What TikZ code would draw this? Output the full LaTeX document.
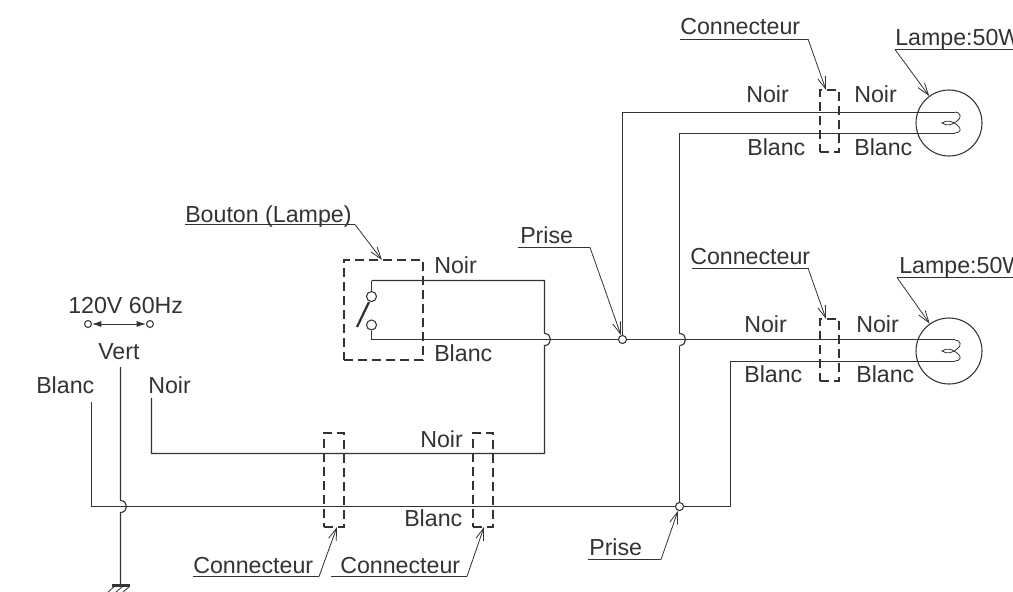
\documentclass[tikz,border=0pt]{standalone}
\usepackage{fontspec}
\setmainfont{Liberation Sans}
\usetikzlibrary{arrows.meta, calc}
\definecolor{inkgray}{HTML}{333333}
\newcommand{\wirehop}[2]{(#1, #2-6) .. controls (#1+8, #2-6) and (#1+8, #2+6) .. (#1, #2+6)}
\newcommand{\lampcoil}[2]{(#1+6, #2-11) .. controls (#1+12, #2-11) and (#1+13, #2-5) .. (#1+8, #2-2) .. controls (#1+5, #2+1) and (#1-2, #2+4) .. (#1-7, #2) .. controls (#1-2, #2-4) and (#1+5, #2-1) .. (#1+8, #2+2) .. controls (#1+13, #2+5) and (#1+12, #2+10) .. (#1+6, #2+10)}
\tikzset{
    lbl/.style={anchor=base west, inner sep=0pt, text=inkgray, font=\fontsize{17.4}{20}\selectfont},
    wire/.style={draw=inkgray, line width=0.85pt},
    leader/.style={draw=inkgray, line width=0.6pt},
    pointer/.style={leader, -{Straight Barb[length=9pt, width=6pt, line width=0.6pt]}},
    dashbox/.style={draw=inkgray, line width=0.85pt, dash pattern=on 7pt off 3.5pt, rectangle, inner sep=0pt, minimum width=#1*0.75pt},
    junction/.style={circle, draw=inkgray, line width=0.8pt, fill=white, inner sep=0pt, minimum size=6pt},
    contact/.style={circle, draw=inkgray, line width=0.8pt, fill=white, inner sep=0pt, minimum size=7.5pt},
    lamp/.style={circle, draw=inkgray, line width=0.8pt, inner sep=0pt, minimum size=49.5pt}
}
\begin{document}
\begin{tikzpicture}[x=0.75pt, y=-0.75pt]
    \useasboundingbox (0, 0) rectangle (1013, 592);
    \clip (0, 0) rectangle (1013, 592);

    %Lamps
    \node[lamp] (lampa) at (949, 123) {};
    \node[lamp] (lampb) at (949, 351) {};

    %Boxes
    \node[dashbox=79, minimum height=75pt] (bouton) at (383.5, 310) {};
    \node[dashbox=20, minimum height=70.5pt] (conna) at (334, 480) {};
    \node[dashbox=20, minimum height=70.5pt] (connb) at (483, 480) {};
    \node[dashbox=19, minimum height=46.5pt] (connc) at (829.5, 121) {};
    \node[dashbox=19, minimum height=46.5pt] (connd) at (829.5, 350) {};

    %Wire ends
    \coordinate (blancin) at (91.5, 402);
    \coordinate (noirin) at (151.5, 398);
    \coordinate (vertin) at (120.5, 367);
    \coordinate (earth) at (120.5, 585);
    \coordinate (swtop) at (371.5, 280.5);
    \coordinate (swbot) at (371.5, 339.5);
    \coordinate (enda) at (955, 112.5);
    \coordinate (endb) at (955, 133.5);
    \coordinate (endc) at (955, 339.5);
    \coordinate (endd) at (955, 361.5);

    %Switch
    \node[contact] (cona) at (371.5, 296.5) {};
    \node[contact] (conb) at (371.5, 325) {};
    \draw[wire] (swtop) -- (cona);
    \draw[wire] (swbot) -- (conb);
    \draw[draw=inkgray, line width=1.7pt] (357, 327) -- (369, 302);

    %Lines (Noir to the switch)
    \draw[wire] (swtop) -- (544.5, 280.5) -- (544.5, 333.5) \wirehop{544.5}{339.5} -- (544.5, 453.5) -- (151.5, 453.5) -- (noirin);

    %Lines (Mains)
    \draw[wire] (vertin) -- (120.5, 500.5) \wirehop{120.5}{506.5} -- (earth);
    \draw[wire] (blancin) |- (730.5, 506.5) -- (730.5, 361.5) -- (endd);

    %Lines (Lamps)
    \draw[wire] (swbot) -- (endc);
    \draw[wire] (622.5, 339.5) |- (enda);
    \draw[wire] (679.5, 506.5) -- (679.5, 345.5);
    \draw[wire] \wirehop{679.5}{339.5};
    \draw[wire] (679.5, 333.5) |- (endb);

    %Coils
    \draw[leader] \lampcoil{949}{123};
    \draw[leader] \lampcoil{949}{351};

    %Dot (connector)
    \node[junction] (prisea) at (622.5, 339.5) {};
    \node[junction] (priseb) at (679.5, 506.5) {};

    %Ground
    \draw[draw=inkgray, line width=1.6pt] (112, 585.5) -- (130, 585.5);
    \foreach \hatchx in {115, 123, 130}
        \draw[leader] (\hatchx, 586) -- ++(-8, 7);

    %Mains labels
    \node[lbl] (volt) at (68, 313) {120V 60Hz};
    \node[contact, minimum size=5.2pt] (volta) at (88, 324) {};
    \node[contact, minimum size=5.2pt] (voltb) at (150, 324) {};
    \draw[leader, {Latex[length=7pt, width=4.5pt]}-{Latex[length=7pt, width=4.5pt]}] (volta) -- (voltb);
    \node[lbl] (vert) at (98, 359) {Vert};
    \node[lbl] (blanca) at (36, 393) {Blanc};
    \node[lbl] (noira) at (148, 393) {Noir};

    %Wire labels
    \node[lbl] (noirb) at (434, 273) {Noir};
    \node[lbl] (blancb) at (434, 361) {Blanc};
    \node[lbl] (noirc) at (420, 447) {Noir};
    \node[lbl] (blancc) at (404, 526) {Blanc};
    \node[lbl] (noird) at (746, 103) {Noir};
    \node[lbl] (noire) at (854, 103) {Noir};
    \node[lbl] (blancd) at (747, 155) {Blanc};
    \node[lbl] (blance) at (854, 155) {Blanc};
    \node[lbl] (noirf) at (744, 332) {Noir};
    \node[lbl] (noirg) at (856, 332) {Noir};
    \node[lbl] (blancf) at (744, 382) {Blanc};
    \node[lbl] (blancg) at (856, 382) {Blanc};

    %Leaders
    \node[lbl] (tagbouton) at (185, 222) {Bouton (Lampe)};
    \draw[leader] (185, 224.5) -- (355, 224.5);
    \draw[pointer] (355, 224.5) -- (382, 260);

    \node[lbl] (tagprisea) at (520, 243) {Prise};
    \draw[leader] (518, 247.5) -- (590, 247.5);
    \draw[pointer] (590, 247.5) -- (prisea);

    \node[lbl] (tagpriseb) at (589, 555) {Prise};
    \draw[leader] (588, 559.5) -- (661, 559.5);
    \draw[pointer] (661, 559.5) -- (priseb);

    \node[lbl] (tagconna) at (193, 573) {Connecteur};
    \draw[leader] (193, 576.5) -- (319, 576.5);
    \draw[pointer] (319, 576.5) -- (337, 527);

    \node[lbl] (tagconnb) at (340, 573) {Connecteur};
    \draw[leader] (331, 576.5) -- (467, 576.5);
    \draw[pointer] (467, 576.5) -- (484, 527);

    \node[lbl] (tagconnc) at (680, 35) {Connecteur};
    \draw[leader] (680, 39) -- (808, 39);
    \draw[pointer] (808, 39) -- (826, 90);

    \node[lbl] (tagconnd) at (690, 264) {Connecteur};
    \draw[leader] (692, 268) -- (808, 268);
    \draw[pointer] (808, 268) -- (826, 319);

    \node[lbl] (taglampa) at (895, 46) {Lampe:50W};
    \draw[leader] (895, 49.5) -- (1013, 49.5);
    \draw[pointer] (895, 49.5) -- (lampa);

    \node[lbl] (taglampb) at (899, 273) {Lampe:50W};
    \draw[leader] (897, 277.5) -- (1013, 277.5);
    \draw[pointer] (897, 277.5) -- (lampb);
\end{tikzpicture}
\end{document}
